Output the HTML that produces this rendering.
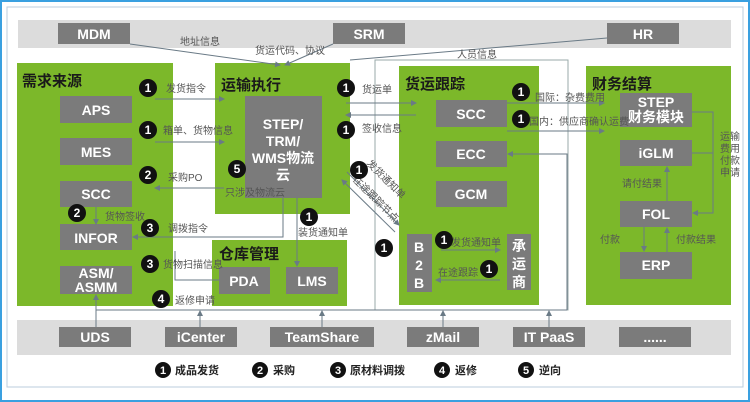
<!DOCTYPE html>
<html><head><meta charset="utf-8"><style>
html,body{margin:0;padding:0;background:#fff}
svg{display:block}
text{font-family:"Liberation Sans","Noto Sans CJK SC",sans-serif}
.b{fill:#fff;font-weight:bold;font-size:14px;text-anchor:middle}
.l{fill:#555;font-size:10px}
.t{fill:#1a1a1a;font-weight:bold;font-size:15px}
.n{fill:#fff;font-weight:bold;font-size:12px;text-anchor:middle}
.ln{stroke:#6a7a86;stroke-width:1;fill:none}
</style></head><body>
<svg width="750" height="402" viewBox="0 0 750 402" xmlns="http://www.w3.org/2000/svg">
<defs><marker id="a" markerWidth="6" markerHeight="6" refX="5" refY="3" orient="auto"><path d="M0,0L6,3L0,6z" fill="#6a7a86"/></marker></defs>
<rect x="1" y="1" width="748" height="400" fill="#fff" stroke="#3aa0e0" stroke-width="2"/>
<rect x="7" y="7" width="736" height="380" fill="#fff" stroke="#bcd" stroke-width="1"/>
<!-- top band -->
<rect x="18" y="20" width="713" height="28" fill="#dcdcdc"/>
<rect x="58" y="23" width="72" height="21" fill="#7b7b7b"/><text class="b" x="94" y="39">MDM</text>
<rect x="333" y="23" width="72" height="21" fill="#7b7b7b"/><text class="b" x="369" y="39">SRM</text>
<rect x="607" y="23" width="72" height="21" fill="#7b7b7b"/><text class="b" x="643" y="39">HR</text>
<!-- bottom band -->
<rect x="17" y="320" width="714" height="35" fill="#dcdcdc"/>
<g>
<rect x="59" y="327" width="72" height="20" fill="#7b7b7b"/><text class="b" x="95" y="342">UDS</text>
<rect x="165" y="327" width="72" height="20" fill="#7b7b7b"/><text class="b" x="201" y="342">iCenter</text>
<rect x="270" y="327" width="104" height="20" fill="#7b7b7b"/><text class="b" x="322" y="342">TeamShare</text>
<rect x="407" y="327" width="72" height="20" fill="#7b7b7b"/><text class="b" x="443" y="342">zMail</text>
<rect x="513" y="327" width="72" height="20" fill="#7b7b7b"/><text class="b" x="549" y="342">IT PaaS</text>
<rect x="619" y="327" width="72" height="20" fill="#7b7b7b"/><text class="b" x="655" y="342">......</text>
</g>
<!-- green panels -->
<rect x="17" y="63" width="156" height="243" fill="#7cb82a"/>
<rect x="215" y="63" width="135" height="151" fill="#7cb82a"/>
<rect x="212" y="240" width="135" height="66" fill="#7cb82a"/>
<rect x="399" y="66" width="140" height="239" fill="#7cb82a"/>
<rect x="586" y="66" width="145" height="239" fill="#7cb82a"/>
<rect x="375" y="60" width="193" height="250" fill="none" stroke="#9aa" stroke-width="1"/>
<text class="t" x="22" y="86">需求来源</text>
<text class="t" x="221" y="90">运输执行</text>
<text class="t" x="219" y="259">仓库管理</text>
<text class="t" x="405" y="89">货运跟踪</text>
<text class="t" x="592" y="89">财务结算</text>
<!-- left boxes -->
<g fill="#7b7b7b">
<rect x="60" y="96" width="72" height="27"/><rect x="60" y="138" width="72" height="27"/>
<rect x="60" y="181" width="72" height="26"/><rect x="60" y="224" width="72" height="26"/>
<rect x="60" y="266" width="72" height="28"/>
<rect x="245" y="96" width="77" height="102"/>
<rect x="219" y="267" width="51" height="27"/><rect x="286" y="267" width="52" height="27"/>
<rect x="436" y="100" width="71" height="27"/><rect x="436" y="141" width="71" height="26"/>
<rect x="436" y="181" width="71" height="26"/>
<rect x="407" y="234" width="25" height="58"/><rect x="507" y="234" width="24" height="56"/>
<rect x="620" y="93" width="72" height="34"/><rect x="620" y="140" width="72" height="26"/>
<rect x="620" y="201" width="72" height="26"/><rect x="620" y="252" width="72" height="27"/>
</g>
<text class="b" x="96" y="115">APS</text><text class="b" x="96" y="157">MES</text>
<text class="b" x="96" y="199">SCC</text><text class="b" x="96" y="243">INFOR</text>
<text class="b" x="96" y="278" font-size="13">ASM/</text><text class="b" x="96" y="292" font-size="13">ASMM</text>
<text class="b" x="283" y="129">STEP/</text><text class="b" x="283" y="146">TRM/</text>
<text class="b" x="283" y="163">WMS物流</text><text class="b" x="283" y="180">云</text>
<text class="b" x="244" y="286">PDA</text><text class="b" x="312" y="286">LMS</text>
<text class="b" x="471" y="119">SCC</text><text class="b" x="471" y="159">ECC</text><text class="b" x="471" y="199">GCM</text>
<text class="b" x="419" y="252">B</text><text class="b" x="419" y="270">2</text><text class="b" x="419" y="288">B</text>
<text class="b" x="519" y="251">承</text><text class="b" x="519" y="269">运</text><text class="b" x="519" y="287">商</text>
<text class="b" x="656" y="107" font-size="13">STEP</text><text class="b" x="656" y="122" font-size="13">财务模块</text>
<text class="b" x="656" y="158">iGLM</text><text class="b" x="656" y="219">FOL</text><text class="b" x="656" y="270">ERP</text>
<!-- connectors -->
<g class="ln">
<line x1="130" y1="44" x2="280" y2="65" marker-end="url(#a)"/>
<line x1="333" y1="44" x2="285" y2="65" marker-end="url(#a)"/>
<line x1="607" y1="38" x2="350" y2="60"/>
<line x1="155" y1="99" x2="224" y2="99" marker-end="url(#a)"/>
<line x1="155" y1="142" x2="224" y2="142" marker-end="url(#a)"/>
<line x1="224" y1="188" x2="155" y2="188" marker-end="url(#a)"/>
<line x1="96" y1="207" x2="96" y2="224" marker-end="url(#a)"/>
<polyline points="283,198 283,237 133,237" marker-end="url(#a)"/>
<line x1="297" y1="198" x2="297" y2="266" marker-end="url(#a)"/>
<polyline points="219,280 175,280 175,251"/>
<line x1="346" y1="103" x2="416" y2="103" marker-end="url(#a)"/>
<line x1="416" y1="115" x2="346" y2="115" marker-end="url(#a)"/>
<line x1="347" y1="172" x2="399" y2="225" marker-end="url(#a)"/>
<line x1="395" y1="232" x2="342" y2="180" marker-end="url(#a)"/>
<line x1="507" y1="103" x2="604" y2="103" marker-end="url(#a)"/>
<line x1="507" y1="131" x2="604" y2="131" marker-end="url(#a)"/>
<polyline points="567,310 567,154 508,154" marker-end="url(#a)"/>
<line x1="441" y1="250" x2="500" y2="250" marker-end="url(#a)"/>
<line x1="500" y1="280" x2="436" y2="280" marker-end="url(#a)"/>
<polyline points="692,112 713,112 713,213 693,213" marker-end="url(#a)"/>
<line x1="692" y1="153" x2="713" y2="153"/>
<line x1="644" y1="227" x2="644" y2="251" marker-end="url(#a)"/>
<line x1="667" y1="252" x2="667" y2="228" marker-end="url(#a)"/>
<line x1="667" y1="201" x2="667" y2="167" marker-end="url(#a)"/>
<line x1="96" y1="310" x2="567" y2="310"/>
<line x1="96" y1="327" x2="96" y2="295" marker-end="url(#a)"/>
<line x1="200" y1="327" x2="200" y2="311" marker-end="url(#a)"/>
<line x1="322" y1="327" x2="322" y2="311" marker-end="url(#a)"/>
<line x1="443" y1="327" x2="443" y2="311" marker-end="url(#a)"/>
<line x1="549" y1="327" x2="549" y2="311" marker-end="url(#a)"/>
</g>
<!-- labels -->
<text class="l" x="180" y="45">地址信息</text>
<text class="l" x="255" y="54">货运代码、协议</text>
<text class="l" x="457" y="58">人员信息</text>
<text class="l" x="166" y="92">发货指令</text>
<text class="l" x="163" y="134">箱单、货物信息</text>
<text class="l" x="168" y="181">采购PO</text>
<text class="l" x="225" y="196">只涉及物流云</text>
<text class="l" x="105" y="220">货物签收</text>
<text class="l" x="168" y="232">调拨指令</text>
<text class="l" x="163" y="268">货物扫描信息</text>
<text class="l" x="175" y="304">返修申请</text>
<text class="l" x="298" y="236">装货通知单</text>
<text class="l" x="362" y="93">货运单</text>
<text class="l" x="362" y="132">签收信息</text>
<text class="l" x="535" y="101">国际：杂费费用</text>
<text class="l" x="529" y="125">国内：供应商确认运费</text>
<text class="l" x="451" y="246">发货通知单</text>
<text class="l" x="438" y="276">在途跟踪</text>
<text class="l" x="622" y="187">请付结果</text>
<text class="l" x="600" y="243">付款</text>
<text class="l" x="676" y="243">付款结果</text>
<text class="l" x="720" y="140">运输</text><text class="l" x="720" y="152">费用</text>
<text class="l" x="720" y="164">付款</text><text class="l" x="720" y="176">申请</text>
<text class="l" transform="translate(366,164) rotate(45)">发货通知单</text>
<text class="l" transform="translate(352,180) rotate(45)">在途跟踪节点</text>
<!-- badges -->
<g fill="#111">
<circle cx="148" cy="88" r="9"/><circle cx="148" cy="130" r="9"/><circle cx="148" cy="175" r="9"/>
<circle cx="237" cy="169" r="9"/><circle cx="77" cy="213" r="9"/><circle cx="150" cy="228" r="9"/>
<circle cx="150" cy="264" r="9"/><circle cx="161" cy="299" r="9"/><circle cx="309" cy="217" r="9"/>
<circle cx="346" cy="88" r="9"/><circle cx="346" cy="130" r="9"/><circle cx="359" cy="170" r="9"/>
<circle cx="384" cy="248" r="9"/><circle cx="521" cy="92" r="9"/><circle cx="521" cy="119" r="9"/>
<circle cx="444" cy="240" r="9"/><circle cx="489" cy="269" r="9"/>
<circle cx="163" cy="370" r="8"/><circle cx="260" cy="370" r="8"/><circle cx="338" cy="370" r="8"/>
<circle cx="442" cy="370" r="8"/><circle cx="526" cy="370" r="8"/>
</g>
<g class="n">
<text x="148" y="92">1</text><text x="148" y="134">1</text><text x="148" y="179">2</text>
<text x="237" y="173">5</text><text x="77" y="217">2</text><text x="150" y="232">3</text>
<text x="150" y="268">3</text><text x="161" y="303">4</text><text x="309" y="221">1</text>
<text x="346" y="92">1</text><text x="346" y="134">1</text><text x="359" y="174">1</text>
<text x="384" y="252">1</text><text x="521" y="96">1</text><text x="521" y="123">1</text>
<text x="444" y="244">1</text><text x="489" y="273">1</text>
<text x="163" y="374" font-size="11">1</text><text x="260" y="374" font-size="11">2</text><text x="338" y="374" font-size="11">3</text>
<text x="442" y="374" font-size="11">4</text><text x="526" y="374" font-size="11">5</text>
</g>
<g font-size="11" font-weight="bold" fill="#222">
<text x="175" y="374">成品发货</text><text x="273" y="374">采购</text><text x="350" y="374">原材料调拨</text>
<text x="455" y="374">返修</text><text x="539" y="374">逆向</text>
</g>
</svg>
</body></html>
